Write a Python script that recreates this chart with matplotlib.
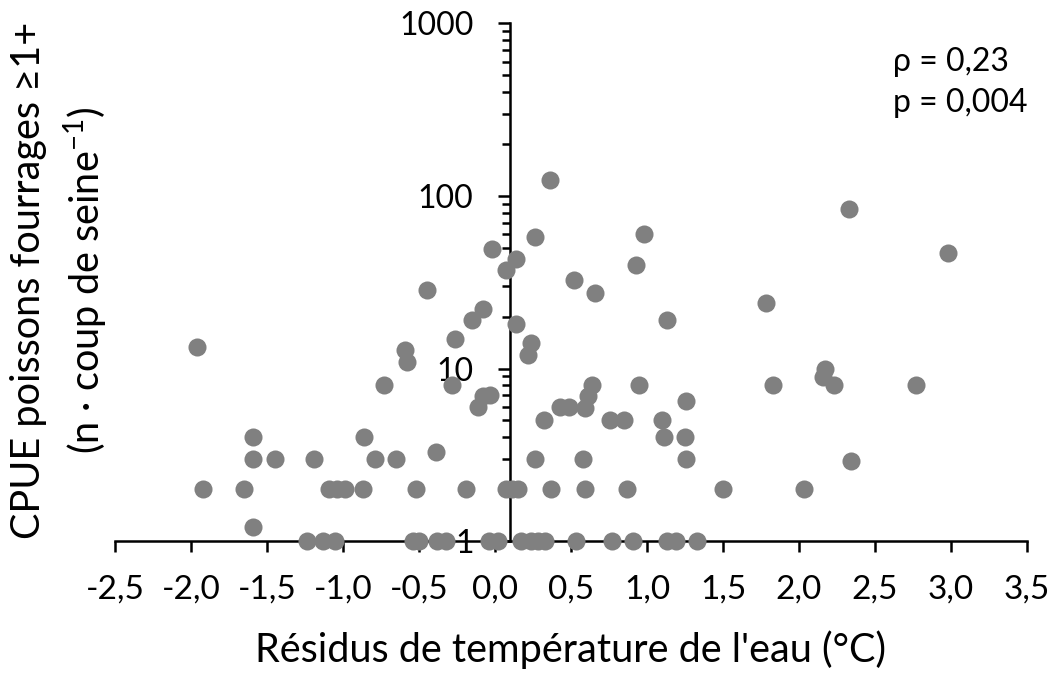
import matplotlib
matplotlib.use('Agg')
import matplotlib.pyplot as plt
from matplotlib.ticker import LogLocator, FixedLocator, FuncFormatter, NullFormatter

plt.rcParams['font.family'] = ['Lato', 'DejaVu Sans']

# Résidus de température (°C) et CPUE (n / coup de seine)
residus = [0.36, 2.33, 0.26, 0.98, -0.02, 2.98, 0.14, 0.93, 0.07, 0.52,
           -0.45, 0.66, 1.78, -0.08, -0.15, 1.13, 0.14, -0.26, 0.24, -1.96,
           -0.59, 0.22, -0.58, 2.17, 2.16, -0.73, -0.28, 0.64, 0.95, 1.83,
           2.23, 2.77, -0.08, -0.03, 0.61, 1.26, -0.11, 0.43, 0.49, 0.59,
           0.32, 0.76, 0.85, 1.10, -1.59, -0.86, 1.11, 1.25, -0.39, -1.59,
           -1.45, -1.19, -0.79, -0.65, 0.26, 0.58, 1.26, 2.34, -1.92, -1.65,
           -1.09, -1.04, -0.99, -0.87, -0.52, -0.19, 0.07, 0.11, 0.15, 0.37,
           0.59, 0.87, 1.50, 2.03, -1.59,
           -1.24, -1.13, -1.05, -0.54, -0.50, -0.38, -0.32, -0.04, 0.02, 0.17,
           0.24, 0.28, 0.33, 0.53, 0.77, 0.91, 1.13, 1.19, 1.33]
cpue = [124, 84, 58, 60, 49, 47, 43, 40, 37, 32.5,
        28.5, 27.5, 24, 22, 19, 19, 18, 14.8, 14, 13.3,
        12.8, 11.9, 10.9, 9.9, 8.9, 8, 8, 8, 8, 8,
        8, 8, 6.9, 7, 6.9, 6.5, 6, 6, 6, 5.9,
        5, 5, 5, 5, 4, 4, 4, 4, 3.3, 3,
        3, 3, 3, 3, 3, 3, 3, 2.9, 2, 2,
        2, 2, 2, 2, 2, 2, 2, 2, 2, 2,
        2, 2, 2, 2, 1.2,
        1, 1, 1, 1, 1, 1, 1, 1, 1, 1,
        1, 1, 1, 1, 1, 1, 1, 1, 1]

x_ticks = [-2.5, -2.0, -1.5, -1.0, -0.5, 0.0, 0.5, 1.0, 1.5, 2.0, 2.5, 3.0, 3.5]
y_ticks = [1, 10, 100, 1000]

fig = plt.figure(figsize=(10.56, 6.75), dpi=100)
ax = fig.add_axes([0.1089, 0.1985, 0.8636, 0.7667])

ax.plot(residus, cpue, 'o', color='#808080', markersize=13, markeredgewidth=0,
        clip_on=False, zorder=3)

ax.set_yscale('log')
ax.set_xlim(-2.5, 3.5)
ax.set_ylim(1, 1000)

ax.spines['top'].set_visible(False)
ax.spines['right'].set_visible(False)
ax.spines['left'].set_position(('data', 0.1))
ax.spines['left'].set_linewidth(1.8)
ax.spines['bottom'].set_linewidth(1.8)

ax.xaxis.set_major_locator(FixedLocator(x_ticks))
ax.xaxis.set_major_formatter(FuncFormatter(lambda v, p: f'{v:.1f}'.replace('.', ',')))
ax.yaxis.set_major_locator(FixedLocator(y_ticks))
ax.yaxis.set_major_formatter(FuncFormatter(lambda v, p: f'{v:g}'))
ax.yaxis.set_minor_locator(LogLocator(base=10, subs=range(2, 10)))
ax.yaxis.set_minor_formatter(NullFormatter())

ax.tick_params(axis='x', which='major', direction='out', length=8, width=1.8,
               labelsize=24, pad=16)
ax.tick_params(axis='y', which='major', direction='out', length=8.5, width=1.8,
               labelsize=23, pad=18)
ax.tick_params(axis='y', which='minor', direction='out', length=6, width=1.8)

fig.text(0.54, 0.037, "Résidus de température de l'eau (°C)", ha='center',
         va='center', fontsize=28.5)
fig.text(0.057, 0.585, "CPUE poissons fourrages ≥1+\n(n · coup de seine$^{\\mathregular{-1}}$)",
         rotation=90, ha='center', va='center', fontsize=28.5, linespacing=1.4,
         multialignment='center')

ax.text(0.853, 0.955, "ρ = 0,23\np = 0,004", transform=ax.transAxes,
        ha='left', va='top', fontsize=23, linespacing=1.45)

fig.savefig('out.png', dpi=100)
